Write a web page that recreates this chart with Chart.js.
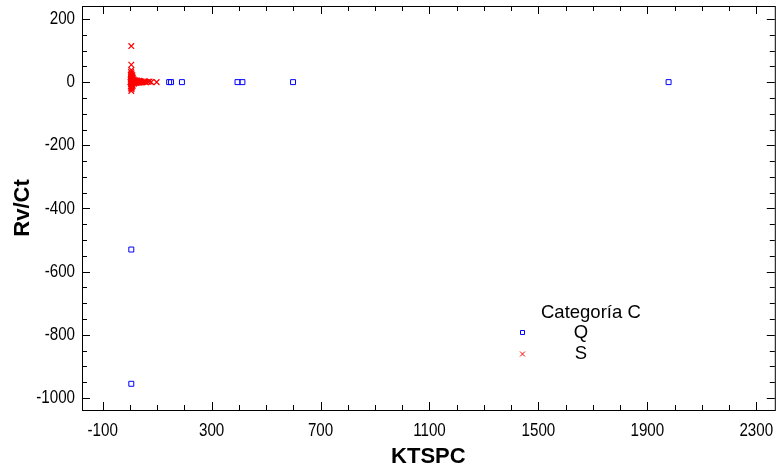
<!DOCTYPE html>
<html>
<head>
<meta charset="utf-8">
<script src="https://cdn.jsdelivr.net/npm/chart.js@4/dist/chart.umd.min.js"></script>
<style>
  html, body { margin: 0; padding: 0; background: #fff; }
  #wrap { width: 780px; height: 469px; position: relative; }
</style>
</head>
<body>
<div id="wrap"><canvas id="chart"></canvas></div>
<script>
/* ── Data ── */
const xTicks = [-100, 300, 700, 1100, 1500, 1900, 2300];
const yTicks = [-1000, -800, -600, -400, -200, 0, 200];

const qX = [5, 5, 144, 151, 191, 395, 413, 599, 1978];
const qY = [-530, -955, 0, 0, 0, 0, 0, 0, 0];

const sX = [5, 5, 5, 4, 6, 3, 5, 7, 4, 6, 5, 3, 8, 6, 4, 5, 7, 2, 6, 5, 9, 4, 6, 8, 5, 3, 7, 5, 6, 5,
  9, 10, 8, 11, 9, 10,
  10, 12, 11, 14, 13, 16, 15, 18, 20, 17, 22, 24, 21, 26, 28, 25, 30, 33, 31, 36, 38, 35, 40, 43, 46, 50, 54, 58, 66, 72, 78, 98];
const sY = [114, 55, 38, 32, 28, 24, 20, 17, 14, 12, 10, 8, 7, 5, 4, 2, 1, 0, -1, -3, -4, -6, -8, -10, -12, -14, -16, -19, -22, -28,
  22, 15, 18, 12, -8, -12,
  6, 3, -2, 8, 0, 4, -5, 2, 6, -1, 3, 0, -3, 5, 1, -2, 2, 4, -1, 1, 3, -2, 0, 2, -1, 1, 3, 0, 1, 2, 0, 0];

const legendTitle = 'Categoría C';
const SANS = '"Liberation Sans", Arial, sans-serif';

const pts = (xs, ys) => xs.map((x, i) => ({ x, y: ys[i] }));

// narrow text (the original uses a condensed face)
function narrowText(ctx, txt, x, y, align) {
  ctx.save();
  ctx.translate(x, y);
  ctx.scale(0.82, 1);
  ctx.textAlign = align;
  ctx.fillText(txt, 0, 0);
  ctx.restore();
}

/* ── Frame, inward ticks, tick labels and legend ── */
const framePlugin = {
  id: 'frame',
  afterDraw(chart) {
    const { ctx, chartArea: a, scales: { x, y } } = chart;
    ctx.save();
    ctx.strokeStyle = '#000';
    ctx.lineWidth = 1;
    ctx.strokeRect(a.left + 0.5, a.top + 0.5, a.right - a.left, a.bottom - a.top);
    ctx.beginPath();
    for (let v = -100; v <= 2300; v += 100) {
      const px = Math.round(x.getPixelForValue(v)) + 0.5;
      const len = (v + 100) % 400 === 0 ? 8 : 5;
      ctx.moveTo(px, a.bottom); ctx.lineTo(px, a.bottom - len);
      ctx.moveTo(px, a.top); ctx.lineTo(px, a.top + len);
    }
    for (let v = -1000; v <= 200; v += 50) {
      const py = Math.round(y.getPixelForValue(v)) + 0.5;
      const len = v % 200 === 0 ? 8 : 5;
      ctx.moveTo(a.left, py); ctx.lineTo(a.left + len, py);
      ctx.moveTo(a.right, py); ctx.lineTo(a.right - len, py);
    }
    ctx.stroke();

    // tick labels
    ctx.fillStyle = '#000';
    ctx.font = '18.5px ' + SANS;
    ctx.textBaseline = 'middle';
    xTicks.forEach(v => narrowText(ctx, String(v), x.getPixelForValue(v), 431, 'center'));
    yTicks.forEach(v => narrowText(ctx, String(v), 75, y.getPixelForValue(v), 'right'));

    // legend
    ctx.font = '18.5px ' + SANS;
    ctx.textAlign = 'left';
    ctx.fillText(legendTitle, 541, 313);
    ctx.textAlign = 'center';
    chart.data.datasets.forEach((ds, i) => {
      const yy = 333 + i * 21;
      ctx.fillText(ds.label, 581, yy);
      ctx.strokeStyle = ds.borderColor;
      ctx.beginPath();
      if (ds.pointStyle === 'rect') {
        ctx.rect(520.5, yy - 2.5, 4, 4);
      } else {
        ctx.moveTo(520, yy - 2.5); ctx.lineTo(525, yy + 2.5);
        ctx.moveTo(525, yy - 2.5); ctx.lineTo(520, yy + 2.5);
      }
      ctx.stroke();
    });
    ctx.restore();
  }
};

new Chart(document.getElementById('chart'), {
  type: 'scatter',
  data: {
    datasets: [
      { label: 'Q', data: pts(qX, qY), pointStyle: 'rect', radius: 3.5, borderColor: '#0000ff', backgroundColor: 'rgba(0,0,0,0)', borderWidth: 1 },
      { label: 'S', data: pts(sX, sY), pointStyle: 'crossRot', radius: 4, borderColor: '#ff0000', backgroundColor: '#ff0000', borderWidth: 1.2 }
    ]
  },
  options: {
    responsive: true,
    maintainAspectRatio: false,
    animation: false,
    layout: { padding: { top: 6, right: 1, left: 0, bottom: 0 } },
    plugins: { legend: { display: false }, tooltip: { enabled: false } },
    scales: {
      x: {
        type: 'linear', min: -176, max: 2368,
        afterBuildTicks: s => { s.ticks = xTicks.map(value => ({ value })); },
        afterFit: s => { s.height = 59; s.paddingLeft = 0; s.paddingRight = 0; },
        grid: { display: false },
        border: { display: false },
        ticks: { display: false },
        title: { display: true, text: 'KTSPC', color: '#000', font: { family: SANS, size: 22, weight: 'bold', lineHeight: 1.1 }, padding: { top: 0, bottom: 0 } }
      },
      y: {
        type: 'linear', min: -1038, max: 241,
        afterBuildTicks: s => { s.ticks = yTicks.map(value => ({ value })); },
        afterFit: s => { s.width = 82; s.paddingTop = 0; s.paddingBottom = 0; },
        grid: { display: false },
        border: { display: false },
        ticks: { display: false },
        title: { display: true, text: 'Rv/Ct', color: '#000', font: { family: SANS, size: 22, weight: 'bold', lineHeight: 1.1 }, padding: { top: 11, bottom: 0 } }
      }
    }
  },
  plugins: [framePlugin]
});
</script>
</body>
</html>
